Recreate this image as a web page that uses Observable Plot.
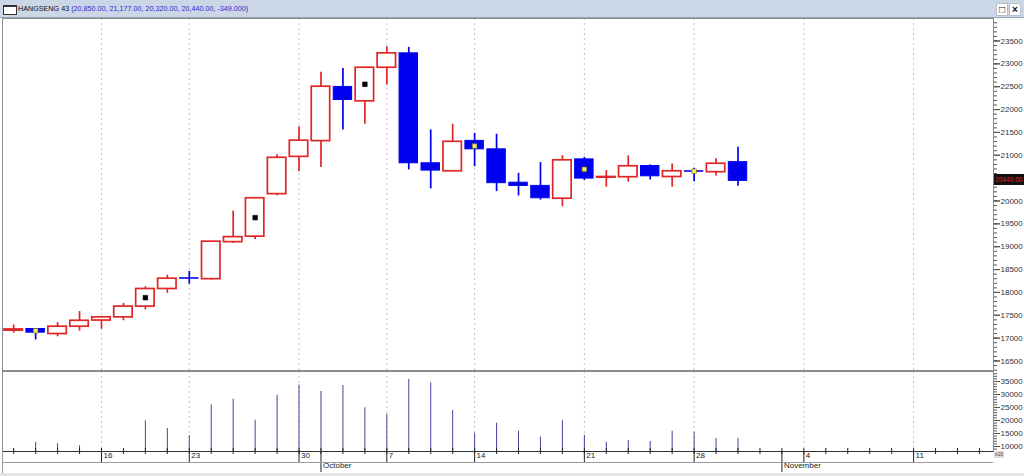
<!DOCTYPE html>
<html><head><meta charset="utf-8">
<script src="https://cdn.jsdelivr.net/npm/d3@7"></script>
<script src="https://cdn.jsdelivr.net/npm/@observablehq/plot@0.6"></script>
<style>
body{margin:0;background:#fff;}
#wrap{position:relative;width:1024px;height:476px;overflow:hidden;background:#fff;font-family:"Liberation Sans",Arial,sans-serif;}
#titlebar{position:absolute;left:0;top:0;width:1024px;height:17px;background:#cbd6e6;border-bottom:1px solid #98a4b6;}
#title{position:absolute;left:18px;top:4px;font-size:7.2px;color:#111;white-space:nowrap;}
#title span{color:#2a2ac8;}
#icon{position:absolute;left:3px;top:5px;width:12px;height:7px;background:#fff;border:1px solid #333;border-top-width:2px;}
.btn{position:absolute;top:3px;width:10px;height:11px;background:#fff;border:1px solid #b7c0cc;font-size:10px;line-height:11px;text-align:center;color:#111;}
#price{position:absolute;left:0;top:18px;}
#vol{position:absolute;left:0;top:370px;}
#last{position:absolute;left:994px;width:30px;height:11px;background:#111;color:#e02525;font-size:6.6px;line-height:11px;padding-left:1px;white-space:nowrap;overflow:hidden;box-sizing:border-box;}
#bline{position:absolute;left:2px;top:462px;width:991px;height:1px;background:#9a9a9a;}
#lline{position:absolute;left:2px;top:451px;width:1px;height:25px;background:#9a9a9a;}
#scroll{position:absolute;left:0;top:473px;width:1024px;height:3px;background:#e4e4e4;}
#x10{position:absolute;left:994px;top:451px;font-size:5px;color:#444;background:#dcdcdc;padding:0 1px;line-height:7px;}
</style></head>
<body><div id="wrap">
<div id="titlebar"><div id="icon"></div>
<div id="title">HANGSENG 43 <span>(20,850.00, 21,177.00, 20,320.00, 20,440.00, -349.000)</span></div>
<div class="btn" style="left:996px">□</div><div class="btn" style="left:1009px;font-weight:bold">×</div>
</div>
<div id="price"></div>
<div id="vol"></div>
<div id="bline"></div><div id="lline"></div><div id="scroll"></div>
</div>
<script>
// trading days (2024) shown on the axis, incl. empty future space
const days = ["09-10","09-11","09-12","09-13","09-16","09-17","09-19","09-20","09-23","09-24","09-25","09-26","09-27","09-30",
  "10-02","10-03","10-04","10-07","10-08","10-09","10-10","10-14","10-15","10-16","10-17","10-18","10-21","10-22","10-23","10-24","10-25",
  "10-28","10-29","10-30","10-31","11-01","11-04","11-05","11-06","11-07","11-08","11-11","11-12","11-13","11-14"];
const open  = [17165,17200,17090,17250,17385,17455,17690,18075,18310,18290,19100,19220,20150,20965,21310,22495,22180,22915,23230,20825,20650,21315,21130,20400,20330,20050,20910,20510,20520,20765,20525,20650,20630,20850];
const high  = [17290,17205,17340,17580,17460,17760,18125,18375,18460,19115,19780,20060,21010,21625,22815,22900,22920,23375,23360,21555,21680,21480,21460,20605,20840,20990,20955,20665,20985,20790,20810,20715,20925,21177];
const low   = [17110,16960,17030,17155,17195,17380,17615,17980,18180,18270,19075,19160,20115,20640,20735,21555,21680,22535,20680,20265,20645,20750,20205,20110,20020,19875,20445,20300,20410,20460,20300,20420,20545,20320];
const close = [17190,17120,17250,17380,17455,17690,18075,18300,18300,19110,19210,20060,20945,21320,22500,22210,22915,23230,20825,20665,21295,21130,20390,20330,20060,20890,20490,20525,20760,20540,20650,20640,20815,20440];
const volume = [8600,11650,11050,10300,8100,8600,19900,16900,14200,26000,28200,20100,29700,33600,31150,33450,24900,22400,35800,34500,23850,15100,18950,15900,13600,20100,14350,11650,12300,11900,15900,15500,13100,13100];
// pattern markers drawn on some candles
const markDay   = [1, 6, 11, 16, 21, 26, 31];
const markPrice = [17160, 17885, 19635, 22553, 21203, 20693, 20650];
const markKind  = ["y","b","b","b","y","y","y"];
const lastPrice = 20440;
const priceTicks = d3.range(16500, 24000, 500);
const volTicks = d3.range(10000, 40000, 5000);

const RED = "#e02626", BLUE = "#0000f0";
const parse = d3.utcParse("%Y-%m-%d");
const dts = days.map(d => parse("2024-" + d));
const allIdx = days.map((d, i) => i);
const weekIdx = allIdx.filter(i => dts[i].getUTCDay() === 1);
const monthIdx = allIdx.filter(i => i > 0 && dts[i].getUTCMonth() !== dts[i-1].getUTCMonth());
const candles = open.map((o, i) => ({i, o, h: high[i], l: low[i], c: close[i], up: close[i] >= o}));
const vols = volume.map((v, i) => ({i, v}));
const marks = markDay.map((d, k) => ({i: d, p: markPrice[k], k: markKind[k]}));
const xDom = [-0.51, 44.64];
const font = "'Liberation Sans', Arial, sans-serif";
// the last-price box covers the tick label next to it
const labelTicks = priceTicks.filter(t => Math.abs(t - lastPrice) > 200);

const price = Plot.plot({
  width: 1024, height: 352, marginLeft: 2, marginRight: 31, marginTop: 0, marginBottom: 0,
  x: {domain: xDom, axis: null},
  y: {domain: [16292, 23992], axis: null},
  style: {fontFamily: font, fontSize: "8px", background: "transparent", overflow: "visible"},
  marks: [
    Plot.ruleX(weekIdx, {x: d => d, stroke: "#c4c4c4", strokeDasharray: "2,3"}),
    Plot.frame({stroke: "#8c8c8c"}),
    Plot.axisY(d3.range(16300, 24000, 100), {anchor: "right", tickSize: 3, fill: "none", stroke: "#555", label: null}),
    Plot.axisY(priceTicks, {anchor: "right", tickSize: 6, fill: "none", stroke: "#555", label: null}),
    Plot.axisY(labelTicks, {anchor: "right", tickSize: 6, tickPadding: 1, tickFormat: d => String(d), stroke: "#555", fill: "#333", label: null}),
    Plot.ruleX(candles, {x: "i", y1: "l", y2: "h", stroke: d => d.up ? RED : BLUE, strokeWidth: 1.7}),
    Plot.rect(candles, {x1: d => d.i - 0.42, x2: d => d.i + 0.42, y1: "o", y2: "c",
      fill: d => d.up ? "#fff" : BLUE, stroke: d => d.up ? RED : BLUE, strokeWidth: d => d.up ? 1.7 : 1}),
    Plot.dot(marks, {x: "i", y: "p", symbol: "square", r: 2.6, fill: d => d.k === "y" ? "#f5f05a" : "#000", stroke: d => d.k === "y" ? "#6b6b20" : "#000", strokeWidth: 0.6})
  ]
});
document.getElementById("price").appendChild(price);
const ly = price.scale("y").apply(lastPrice);
const lb = document.createElement("div");
lb.id = "last"; lb.style.top = (18 + ly - 6) + "px"; lb.textContent = lastPrice.toFixed(2);
document.getElementById("wrap").appendChild(lb);

const pH = 106, mT = 1, mB = 25, inner = pH - mT - mB;
const vol = Plot.plot({
  width: 1024, height: pH, marginLeft: 2, marginRight: 31, marginTop: mT, marginBottom: mB,
  x: {domain: xDom, axis: null},
  y: {domain: [8077, 38846], axis: null},
  style: {fontFamily: font, fontSize: "8px", background: "transparent", overflow: "visible"},
  marks: [
    Plot.ruleX(weekIdx, {x: d => d, stroke: "#c4c4c4", strokeDasharray: "2,3"}),
    Plot.ruleX(vols, {x: "i", y1: 8077, y2: "v", stroke: "#44449c", strokeWidth: 1}),
    Plot.frame({stroke: "#8c8c8c"}),
    Plot.ruleY([8077], {stroke: "#333"}),
    Plot.axisY(d3.range(9000, 39000, 1000), {anchor: "right", tickSize: 3, fill: "none", stroke: "#555", label: null}),
    Plot.axisY(volTicks, {anchor: "right", tickSize: 6, tickPadding: 1, tickFormat: d => String(d), stroke: "#555", fill: "#333", label: null}),
    Plot.tickX(allIdx, {x: d => d, insetTop: inner - 3, insetBottom: -3, stroke: "#222"}),
    Plot.tickX(weekIdx, {x: d => d, insetTop: inner, insetBottom: -11, stroke: "#222"}),
    Plot.tickX(monthIdx, {x: d => d, insetTop: inner, insetBottom: -21, stroke: "#222"}),
    Plot.text(weekIdx, {x: d => d, text: i => String(dts[i].getUTCDate()), frameAnchor: "bottom", dy: 6, dx: 2, textAnchor: "start", fill: "#222"}),
    Plot.text(monthIdx, {x: d => d, text: i => d3.utcFormat("%B")(dts[i]), frameAnchor: "bottom", dy: 16, dx: 2, textAnchor: "start", fill: "#222"})
  ]
});
document.getElementById("vol").appendChild(vol);
const x10 = document.createElement("div"); x10.id = "x10"; x10.textContent = "x10";
document.getElementById("wrap").appendChild(x10);
</script>
</body></html>
